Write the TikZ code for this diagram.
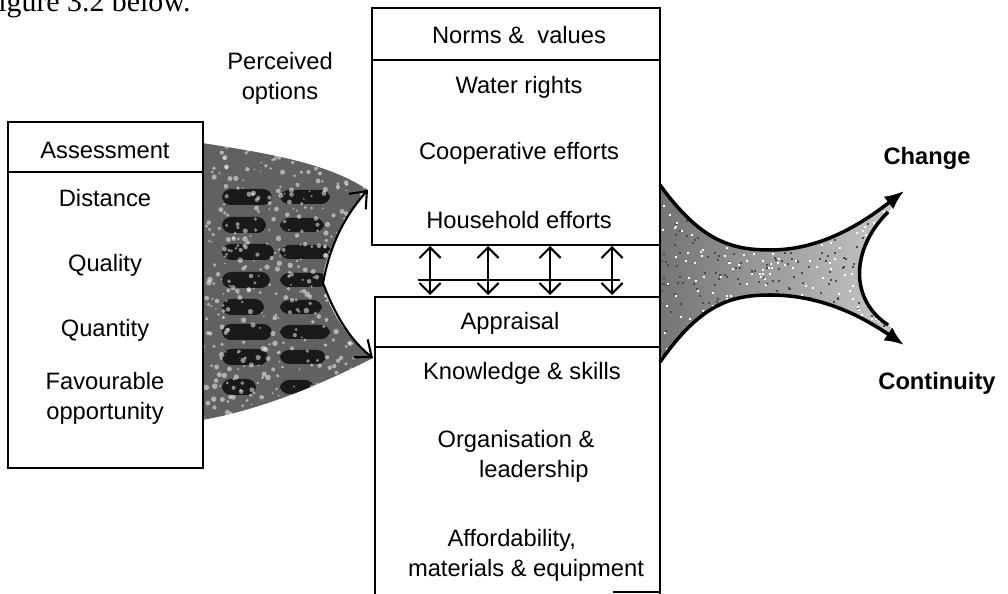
\documentclass[tikz,border=0pt]{standalone}
\usepackage{fontspec}
\setmainfont{Liberation Serif}
\setsansfont{Liberation Sans}
\usetikzlibrary{arrows.meta}
\tikzset{lbl/.style={font=\sffamily\fontsize{13.5}{17}\selectfont,align=center,inner sep=0pt},
  hd/.style={font=\sffamily\bfseries\fontsize{13.5}{17}\selectfont,inner sep=0pt},
  bx/.style={line width=0.8pt},
  barb/.style={line width=1.2pt,{Straight Barb[length=6pt,width=12pt]}-{Straight Barb[length=6pt,width=12pt]}},
  opt/.style={line width=1.2pt,-{Straight Barb[length=8pt,width=13pt]}},
  fat/.style={line width=2pt,-{Latex[length=11pt,width=9pt]}}}
\begin{document}
\begin{tikzpicture}[x=0.02cm,y=-0.02cm]
\useasboundingbox (0,0) rectangle (1008,594);\clip (0,0) rectangle (1008,594);
\pgfmathsetseed{7}
\node[font=\rmfamily\fontsize{17}{20}\selectfont,anchor=base west,inner sep=0pt] (fig) at (-2,12) {igure 3.2 below.};
\begin{scope}
\clip (202,143) .. controls (280,155) and (330,165) .. (368,190) .. controls (340,225) and (322,260) .. (323,283) .. controls (330,315) and (350,340) .. (373,358) .. controls (320,385) and (260,410) .. (202,420) -- cycle;
\fill[black!62] (195,135) rectangle (380,425);
\foreach \yy/\w in {197/50,225/44,252/52,280/48,307/42,332/50,357/46,387/34} {\fill[black!90,rounded corners=5pt] (222,\yy-8) rectangle (222+\w,\yy+8);\fill[black!90,rounded corners=5pt] (280,\yy-7) rectangle (280+\w,\yy+7);}
\foreach \k in {1,...,500} {\pgfmathsetmacro\px{200+175*rnd}\pgfmathsetmacro\py{140+282*rnd}\pgfmathsetmacro\pr{0.8+2*rnd}\fill[white,opacity=0.5] (\px,\py) circle (\pr);}
\end{scope}
\draw[opt] (323,283) .. controls (330,245) and (345,215) .. (368,190);
\draw[opt] (323,283) .. controls (335,315) and (350,340) .. (373,358);
\begin{scope}
\clip (660,185) .. controls (700,240) and (730,250) .. (770,250) .. controls (820,250) and (860,225) .. (900,193) -- (888,214) .. controls (850,250) and (850,300) .. (888,323) -- (900,342) .. controls (860,315) and (820,295) .. (770,295) .. controls (730,295) and (700,305) .. (660,362) -- cycle;
\shade[left color=black!55,right color=black!20] (655,180) rectangle (905,365);
\foreach \k in {1,...,350} {\pgfmathsetmacro\px{660+240*rnd}\pgfmathsetmacro\py{185+178*rnd}\fill[black!70] (\px,\py) rectangle ++(2,2);}
\foreach \k in {1,...,250} {\pgfmathsetmacro\px{660+240*rnd}\pgfmathsetmacro\py{185+178*rnd}\fill[white] (\px,\py) rectangle ++(2,2);}
\end{scope}
\draw[fat] (660,185) .. controls (700,240) and (730,250) .. (770,250) .. controls (820,250) and (860,225) .. (904,191);
\draw[line width=2pt] (888,212) .. controls (850,250) and (850,300) .. (888,325);
\draw[fat] (660,362) .. controls (700,305) and (730,295) .. (770,295) .. controls (820,295) and (860,315) .. (904,345);
\draw[bx] (8,122) rectangle (203,468);\draw[bx] (8,172)--(203,172);
\draw[bx] (372,8) rectangle (660,245);\draw[bx] (372,60)--(660,60);
\draw[bx] (375,600)--(375,297)--(660,297)--(660,600);\draw[bx] (375,347)--(660,347);\draw[bx] (613,592)--(660,592);
\draw[bx] (660,245)--(660,297);
\foreach \xx [count=\i] in {430,488,550,612} {\coordinate (u\i) at (\xx,246);\coordinate (d\i) at (\xx,295);\draw[barb] (u\i)--(d\i);}
\coordinate (hl) at (418,280);\coordinate (hr) at (620,280);\draw[line width=1.2pt] (hl)--(hr);
\node[lbl] (perc) at (280,78) {Perceived\\options};
\node[lbl] (assess) at (105,150) {Assessment};\node[lbl] (dist) at (105,198) {Distance};
\node[lbl] (qual) at (105,265) {Quality};\node[lbl] (quant) at (105,330) {Quantity};
\node[lbl] (favour) at (105,398) {Favourable\\opportunity};
\node[lbl] (norms) at (519,35) {Norms \& \ values};\node[lbl] (water) at (519,87) {Water rights};
\node[lbl] (coop) at (519,153) {Cooperative efforts};\node[lbl] (house) at (519,220) {Household efforts};
\node[lbl] (apprais) at (510,323) {Appraisal};\node[lbl] (know) at (522,373) {Knowledge \& skills};
\node[lbl] (organ) at (516,456) {Organisation \&\\\hspace*{1.5em}leadership};
\node[lbl] (afford) at (526,555) {Affordability,\hspace*{1.2em}\\materials \& equipment};
\node[hd] (change) at (927,158) {Change};\node[hd] (contin) at (937,383) {Continuity};
\end{tikzpicture}
\end{document}
